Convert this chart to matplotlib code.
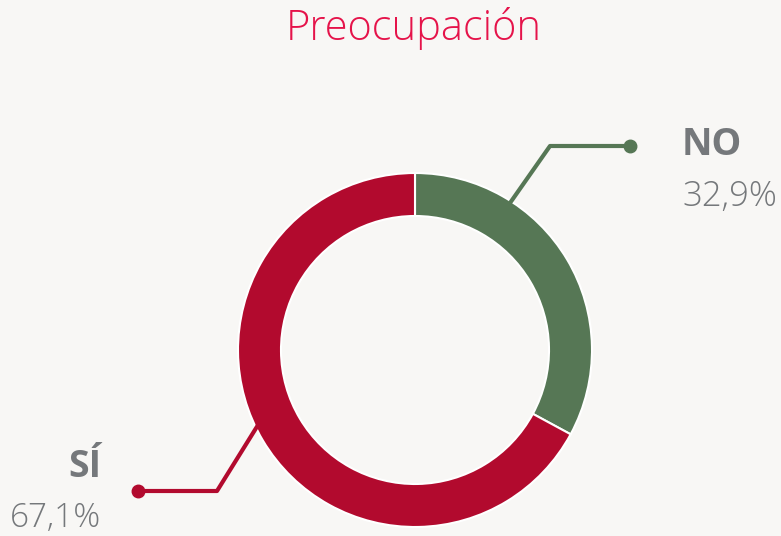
import matplotlib.pyplot as plt

labels = ["NO", "SÍ"]
values = [32.9, 67.1]
pct_labels = ["32,9%", "67,1%"]
colors = ["#567755", "#b20a2e"]

bg = "#f8f7f5"
gray = "#75787b"
W, H = 781, 536

fig = plt.figure(figsize=(W / 100, H / 100), dpi=100, facecolor=bg)
ax = fig.add_axes([0, 0, 1, 1])
ax.set_facecolor(bg)

# donut, centre and radius in pixel units (y measured from bottom)
cx, cy = 415, H - 350
r = 177
ax.pie(values, colors=colors, startangle=90, counterclock=False,
       center=(cx, cy), radius=r,
       wedgeprops=dict(width=43, edgecolor="white", linewidth=1.5))

# leader lines
ax.plot([510, 550, 630], [H - 203, H - 146, H - 146], color=colors[0], lw=3, solid_capstyle="butt")
ax.plot([630], [H - 146], "o", color=colors[0], ms=9)
ax.plot([258, 217, 138], [H - 425, H - 491, H - 491], color=colors[1], lw=3, solid_capstyle="butt")
ax.plot([138], [H - 491], "o", color=colors[1], ms=9)

fam = ["Open Sans", "DejaVu Sans"]
ax.text(682, H - 145, labels[0], color=gray, fontsize=27, fontweight="bold",
        family=fam, ha="left", va="center")
ax.text(682, H - 197, pct_labels[0], color=gray, fontsize=25, fontweight="light",
        family=fam, ha="left", va="center")
ax.text(101, H - 467, labels[1], color=gray, fontsize=27, fontweight="bold",
        family=fam, ha="right", va="center")
ax.text(101, H - 518, pct_labels[1], color=gray, fontsize=24, fontweight="light",
        family=fam, ha="right", va="center")

ax.text(414, H - 29, "Preocupación", color="#e5134a", fontsize=30, fontweight="light",
        family=fam, ha="center", va="center")

ax.set_xlim(0, W)
ax.set_ylim(0, H)
ax.set_aspect("equal")
ax.axis("off")

fig.savefig("out.png", dpi=100, facecolor=bg)
